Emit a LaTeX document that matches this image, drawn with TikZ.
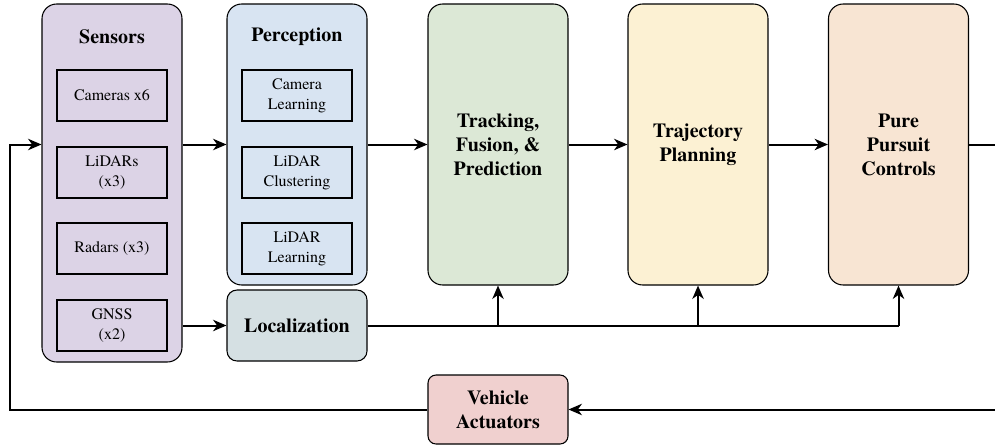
\documentclass[tikz,border=0pt]{standalone}
\usepackage{fontspec}
\setmainfont{TeX Gyre Termes}
\usetikzlibrary{arrows.meta,positioning}

\definecolor{sensorsfill}{HTML}{DCD3E6}
\definecolor{percfill}{HTML}{D8E4F2}
\definecolor{trackfill}{HTML}{DCE8D6}
\definecolor{trajfill}{HTML}{FCF1D3}
\definecolor{ppfill}{HTML}{F8E5D3}
\definecolor{locfill}{HTML}{D5E0E3}
\definecolor{actfill}{HTML}{F0D0CF}

\begin{document}
\begin{tikzpicture}[x=0.75pt,y=-0.75pt]
        \tikzstyle{stage}=[draw, line width=0.8pt, rounded corners=11pt, inner sep=0pt,
                           minimum width=105pt, align=center,
                           font=\bfseries\fontsize{15}{18}\selectfont]
        \tikzstyle{part}=[draw, line width=0.8pt, inner sep=0pt, minimum width=82.5pt,
                          minimum height=38.25pt, align=center, font=\fontsize{12}{15}\selectfont]
        \tikzstyle{title}=[font=\bfseries\fontsize{15}{18}\selectfont]
        \tikzstyle{line}=[line width=1.5pt]
        \tikzstyle{arr}=[line width=1.5pt, -{Stealth[length=10pt,width=8.5pt,inset=3pt]}]
        \useasboundingbox (0,0) rectangle (995,446);

        % big blocks
        \node[stage, fill=sensorsfill, minimum height=268.5pt] (sensors) at (112,183) {};
        \node[stage, fill=percfill, minimum height=210.75pt] (perception) at (297,144.5) {};
        \node[stage, fill=locfill, minimum height=53.25pt, rounded corners=7.5pt] (localization) at (297,325.5) {Localization};
        \node[stage, fill=trackfill, minimum height=210.75pt] (tracking) at (498,144.5) {Tracking,\\Fusion, \&\\Prediction};
        \node[stage, fill=trajfill, minimum height=210.75pt] (trajectory) at (698,144.5) {Trajectory\\Planning};
        \node[stage, fill=ppfill, minimum height=210.75pt] (pursuit) at (898.5,144.5) {Pure\\Pursuit\\Controls};
        \node[stage, fill=actfill, minimum height=51.75pt, rounded corners=6pt] (actuators) at (498,409.5) {Vehicle\\Actuators};

        % titles
        \node[title] (sensorsTitle) at (112,37) {Sensors};
        \node[title] (percTitle) at (297,37) {Perception};

        % sensors
        \node[part] (cameras) at (112,95.5) {Cameras x6};
        \node[part] (lidars) at (112,172.5) {LiDARs\\(x3)};
        \node[part] (radars) at (112,248.5) {Radars (x3)};
        \node[part] (gnss) at (112,325.5) {GNSS\\(x2)};

        % perception
        \node[part] (camLearn) at (297,95.5) {Camera\\Learning};
        \node[part] (lidarClust) at (297,172.5) {LiDAR\\Clustering};
        \node[part] (lidarLearn) at (297,248.5) {LiDAR\\Learning};

        % main chain
        \draw[arr] (sensors.east |- perception.west) -- (perception.west);
        \draw[arr] (perception) -- (tracking);
        \draw[arr] (tracking) -- (trajectory);
        \draw[arr] (trajectory) -- (pursuit);
        \draw[arr] (sensors.east |- localization.west) -- (localization.west);

        % localization feed
        \draw[line] (localization.east) -- (pursuit.south |- localization.east);
        \draw[arr] (tracking.south |- localization.east) -- (tracking.south);
        \draw[arr] (trajectory.south |- localization.east) -- (trajectory.south);
        \draw[arr] (pursuit.south |- localization.east) -- (pursuit.south);

        % feedback loop
        \coordinate (outR) at (1010,144.5);
        \coordinate (fbBot) at (10,409.5);
        \coordinate (fbTop) at (10,144.5);
        \draw[arr] (pursuit.east) -- (outR) |- (actuators.east);
        \draw[arr] (actuators.west) -- (fbBot) -- (fbTop) -- (sensors.west |- fbTop);
\end{tikzpicture}
\end{document}
